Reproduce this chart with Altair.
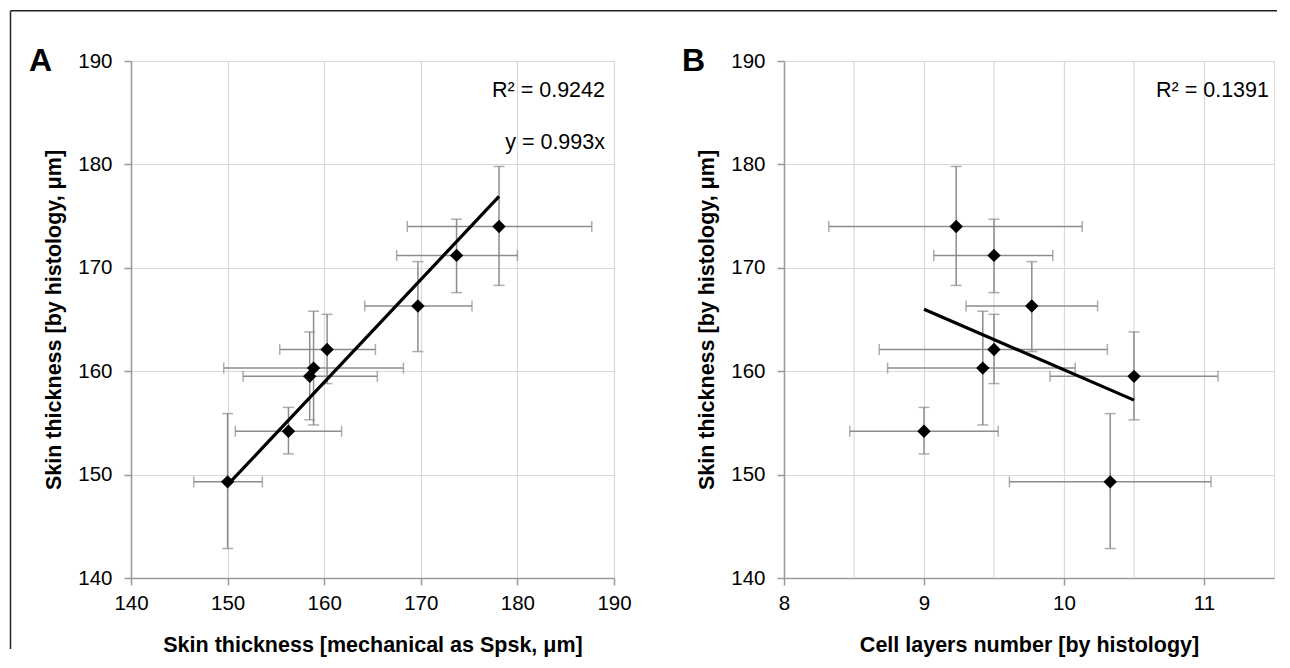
import altair as alt
import pandas as pd

# ---- data ----
hist_y = [174.0, 171.2, 166.3, 162.1, 160.3, 159.5, 154.2, 149.3]
hist_lo = [168.3, 167.6, 161.9, 158.8, 154.8, 155.3, 152.0, 142.85]
hist_hi = [179.8, 174.7, 170.6, 165.5, 165.8, 163.8, 156.5, 155.9]

mech_x = [178.1, 173.7, 169.7, 160.3, 158.9, 158.5, 156.3, 150.0]
mech_lo = [168.6, 167.5, 164.2, 155.4, 149.6, 151.6, 150.8, 146.5]
mech_hi = [187.7, 180.0, 175.3, 165.3, 168.2, 165.5, 161.8, 153.6]

cells_x = [9.23, 9.50, 9.77, 9.50, 9.42, 10.50, 9.00, 10.33]
cells_lo = [8.32, 9.07, 9.30, 8.68, 8.74, 9.90, 8.47, 9.61]
cells_hi = [10.13, 9.92, 10.24, 10.31, 10.08, 11.10, 9.53, 11.05]

trend_a_x = [150.0, 178.1]
trend_a_y = [149.0, 176.9]
trend_b_x = [9.0, 10.5]
trend_b_y = [166.0, 157.2]

a_ticks = [140, 150, 160, 170, 180, 190]
y_ticks = [140, 150, 160, 170, 180, 190]
b_ticks = [8, 9, 10, 11]
b_half_grid = [8.5, 9.5, 10.5]

a_x_title = "Skin thickness [mechanical as Spsk, μm]"
b_x_title = "Cell layers number [by histology]"
y_title = "Skin thickness [by histology, μm]"
a_notes = ["R² = 0.9242", "y = 0.993x"]
b_notes = ["R² = 0.1391"]

FONT = "Liberation Sans"
ERR = "#8c8c8c"
GRID = "#d9d9d9"
DOM = "#9a9a9a"
W_A, W_B, H = 483, 490, 517

df_a = pd.DataFrame({"x": mech_x, "xlo": mech_lo, "xhi": mech_hi,
                     "y": hist_y, "ylo": hist_lo, "yhi": hist_hi})
df_b = pd.DataFrame({"x": cells_x, "xlo": cells_lo, "xhi": cells_hi,
                     "y": hist_y, "ylo": hist_lo, "yhi": hist_hi})
one = pd.DataFrame({"k": [0]})


def axis_common(values, title):
    return dict(values=values, title=title, grid=True, gridColor=GRID, gridWidth=1.2,
                domainColor=DOM, domainWidth=1.5, tickColor=DOM, tickWidth=1.5, tickSize=7,
                labelFont=FONT, labelFontSize=20.5, labelColor="black", labelFlush=False,
                titleFont=FONT, titleFontSize=21.5, titleFontWeight="bold", titleColor="black")


def panel(df, xdom, xvals, xtitle, tx, ty, width, notes, note_x, letter, letter_x, extra_grid=None, frame=False):
    xs = alt.Scale(domain=xdom, nice=False, zero=False)
    ys = alt.Scale(domain=[140, 190], nice=False, zero=False)
    xax = alt.Axis(**axis_common(xvals, xtitle), labelPadding=8, titlePadding=21)
    yax = alt.Axis(**axis_common(y_ticks, y_title), labelPadding=12, titlePadding=12)
    X = alt.X("x:Q", scale=xs, axis=xax)
    Y = alt.Y("y:Q", scale=ys, axis=yax)
    base = alt.Chart(df)
    layers = [
        base.mark_rule(color=ERR, strokeWidth=1.5).encode(x=X, y=alt.Y("ylo:Q", scale=ys, axis=yax), y2="yhi:Q"),
        base.mark_rule(color=ERR, strokeWidth=1.5).encode(x=alt.X("xlo:Q", scale=xs, axis=xax), x2="xhi:Q", y=Y),
        base.mark_tick(orient="horizontal", size=11, thickness=1.5, color=ERR).encode(x=X, y=alt.Y("ylo:Q", scale=ys, axis=yax)),
        base.mark_tick(orient="horizontal", size=11, thickness=1.5, color=ERR).encode(x=X, y=alt.Y("yhi:Q", scale=ys, axis=yax)),
        base.mark_tick(orient="vertical", size=11, thickness=1.5, color=ERR).encode(x=alt.X("xlo:Q", scale=xs, axis=xax), y=Y),
        base.mark_tick(orient="vertical", size=11, thickness=1.5, color=ERR).encode(x=alt.X("xhi:Q", scale=xs, axis=xax), y=Y),
        alt.Chart(pd.DataFrame({"x": tx, "y": ty})).mark_line(color="black", strokeWidth=3.2).encode(x=X, y=Y),
        base.mark_point(shape="diamond", filled=True, size=180, color="black", opacity=1).encode(x=X, y=Y),
    ]
    if extra_grid is not None:
        layers.insert(0, alt.Chart(pd.DataFrame({"x": extra_grid})).mark_rule(
            color=GRID, strokeWidth=1.2).encode(x=X))
    for i, n in enumerate(notes):
        layers.append(alt.Chart(one).mark_text(text=n, font=FONT, fontSize=21.5, align="right",
                                               baseline="middle", color="black").encode(
            x=alt.value(note_x), y=alt.value(30 + 52 * i)))
    layers.append(alt.Chart(one).mark_text(text=letter, font=FONT, fontSize=32, fontWeight="bold",
                                           align="center", baseline="middle", color="black").encode(
        x=alt.value(letter_x), y=alt.value(0)))
    if frame:
        layers.append(alt.Chart(one).mark_rule(color="#222", strokeWidth=1.5).encode(
            x=alt.value(-120.5), y=alt.value(-50.3), y2=alt.value(588)))
        layers.append(alt.Chart(one).mark_rule(color="#222", strokeWidth=1.5).encode(
            x=alt.value(-120.5), x2=alt.value(1146), y=alt.value(-50.3)))
    return alt.layer(*layers).properties(width=width, height=H)


pa = panel(df_a, [140, 190], a_ticks, a_x_title, trend_a_x, trend_a_y, W_A,
           a_notes, 474, "A", -90.5, frame=True)
pb = panel(df_b, [8, 11.5], b_ticks, b_x_title, trend_b_x, trend_b_y, W_B,
           b_notes, 485, "B", -90.5, extra_grid=b_half_grid)

chart = alt.hconcat(pa, pb, spacing=170, bounds="flush").properties(
    padding={"left": 1, "top": 1, "right": 2, "bottom": 2}
).configure_view(stroke=GRID, strokeWidth=1.2).configure(background="white")

chart.save("out.html", embed_options={"renderer": "svg", "actions": False})
